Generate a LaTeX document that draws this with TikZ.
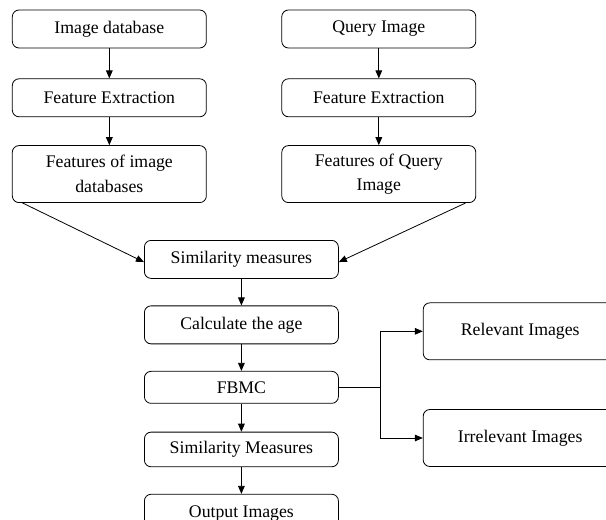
\documentclass[tikz,border=0pt]{standalone}
\usepackage{fontspec}
\setmainfont{Liberation Serif}
\usetikzlibrary{arrows.meta,positioning,calc}

\begin{document}
\begin{tikzpicture}[
    node distance=20pt,
    every node/.style={font=\fontsize{13.3pt}{18.5pt}\selectfont},
    box/.style={draw, rounded corners=5pt, align=center, minimum width=145.5pt, minimum height=28.5pt, line width=0.6pt},
    tallbox/.style={box, minimum height=42.75pt},
    flow/.style={-{Triangle[length=6pt, width=5pt]}, line width=0.6pt},
    link/.style={line width=0.6pt}
]
\useasboundingbox (0,0) rectangle (454.5pt,-390pt);
\node[box] (imgdb) at (82pt,-21.75pt) {Image database};
\node[box, below=22.5pt of imgdb] (extractdb) {Feature Extraction};
\node[tallbox, below=21pt of extractdb] (featdb) {Features of image\\databases};
\node[box, right=56pt of imgdb] (query) {Query Image};
\node[box, below=22.5pt of query] (extractq) {Feature Extraction};
\node[tallbox, below=21pt of extractq] (featq) {Features of Query\\Image};
\node[box, below=27.75pt, xshift=-2pt] (similarity) at ($(featdb.south)!0.5!(featq.south)$) {Similarity measures};
\node[box, below=of similarity] (age) {Calculate the age};
\node[box, below=of age, minimum height=24pt] (fbmc) {FBMC};
\node[box, below=21pt of fbmc, minimum height=26pt] (measures) {Similarity Measures};
\node[box, below=of measures] (output) {Output Images};
\node[tallbox, anchor=west] (relevant) at ([xshift=63pt, yshift=42pt]fbmc.east) {Relevant Images};
\node[tallbox, anchor=west] (irrelevant) at ([xshift=63pt, yshift=-38pt]fbmc.east) {Irrelevant Images};
\coordinate (split) at ([xshift=31.5pt]fbmc.east);
\draw[flow] (imgdb) -- (extractdb);
\draw[flow] (extractdb) -- (featdb);
\draw[flow] (query) -- (extractq);
\draw[flow] (extractq) -- (featq);
\draw[flow] ([xshift=8pt]featdb.south west) -- ([yshift=-2pt]similarity.west);
\draw[flow] ([xshift=-8pt]featq.south east) -- ([yshift=-2pt]similarity.east);
\draw[flow] (similarity) -- (age);
\draw[flow] (age) -- (fbmc);
\draw[flow] (fbmc) -- (measures);
\draw[flow] (measures) -- (output);
\draw[link] (fbmc.east) -- (split);
\draw[flow] (split) |- (relevant.west);
\draw[flow] (split) |- (irrelevant.west);
\end{tikzpicture}
\end{document}
